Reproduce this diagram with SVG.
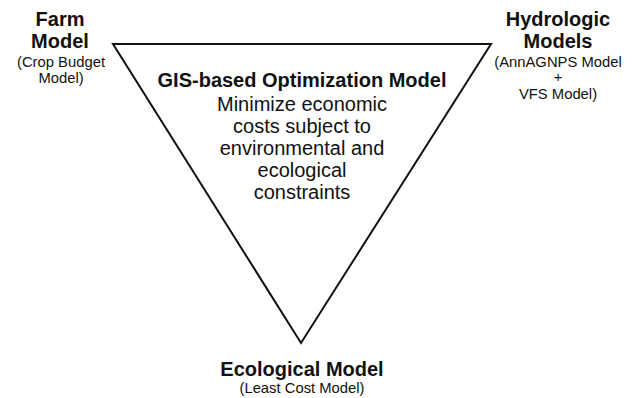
<svg xmlns="http://www.w3.org/2000/svg" width="635" height="398" viewBox="0 0 635 398">
  <style>
    text { font-family: "Liberation Sans", Arial, sans-serif; fill: #111; text-anchor: middle; }
    .title { font-size: 20px; font-weight: bold; }
    .sub { font-size: 14.8px; }
    .body { font-size: 20px; }
    .frame { fill: none; stroke: #111; stroke-width: 2; stroke-linejoin: miter; }
  </style>
  <rect width="635" height="398" fill="#ffffff"/>

  <!-- central optimization triangle -->
  <g id="optimization">
    <polygon class="frame" points="113,44 491,44 301,343"/>
    <text class="title" x="302" y="87">GIS-based Optimization Model</text>
    <text class="body" x="302" y="111">Minimize economic</text>
    <text class="body" x="302" y="133">costs subject to</text>
    <text class="body" x="302" y="155">environmental and</text>
    <text class="body" x="302" y="177">ecological</text>
    <text class="body" x="302" y="199">constraints</text>
  </g>

  <g id="farm">
    <text class="title" x="60" y="26">Farm</text>
    <text class="title" x="60" y="48">Model</text>
    <text class="sub" x="61" y="67">(Crop Budget</text>
    <text class="sub" x="61" y="83">Model)</text>
  </g>

  <g id="hydrologic">
    <text class="title" x="558" y="26">Hydrologic</text>
    <text class="title" x="558" y="48">Models</text>
    <text class="sub" x="558" y="66.5">(AnnAGNPS Model</text>
    <text class="sub" x="558" y="82.3" font-size="12">+</text>
    <text class="sub" x="558" y="98.5">VFS Model)</text>
  </g>

  <g id="ecological">
    <text class="title" x="302" y="375.5">Ecological Model</text>
    <text class="sub" x="302" y="393">(Least Cost Model)</text>
  </g>
</svg>
